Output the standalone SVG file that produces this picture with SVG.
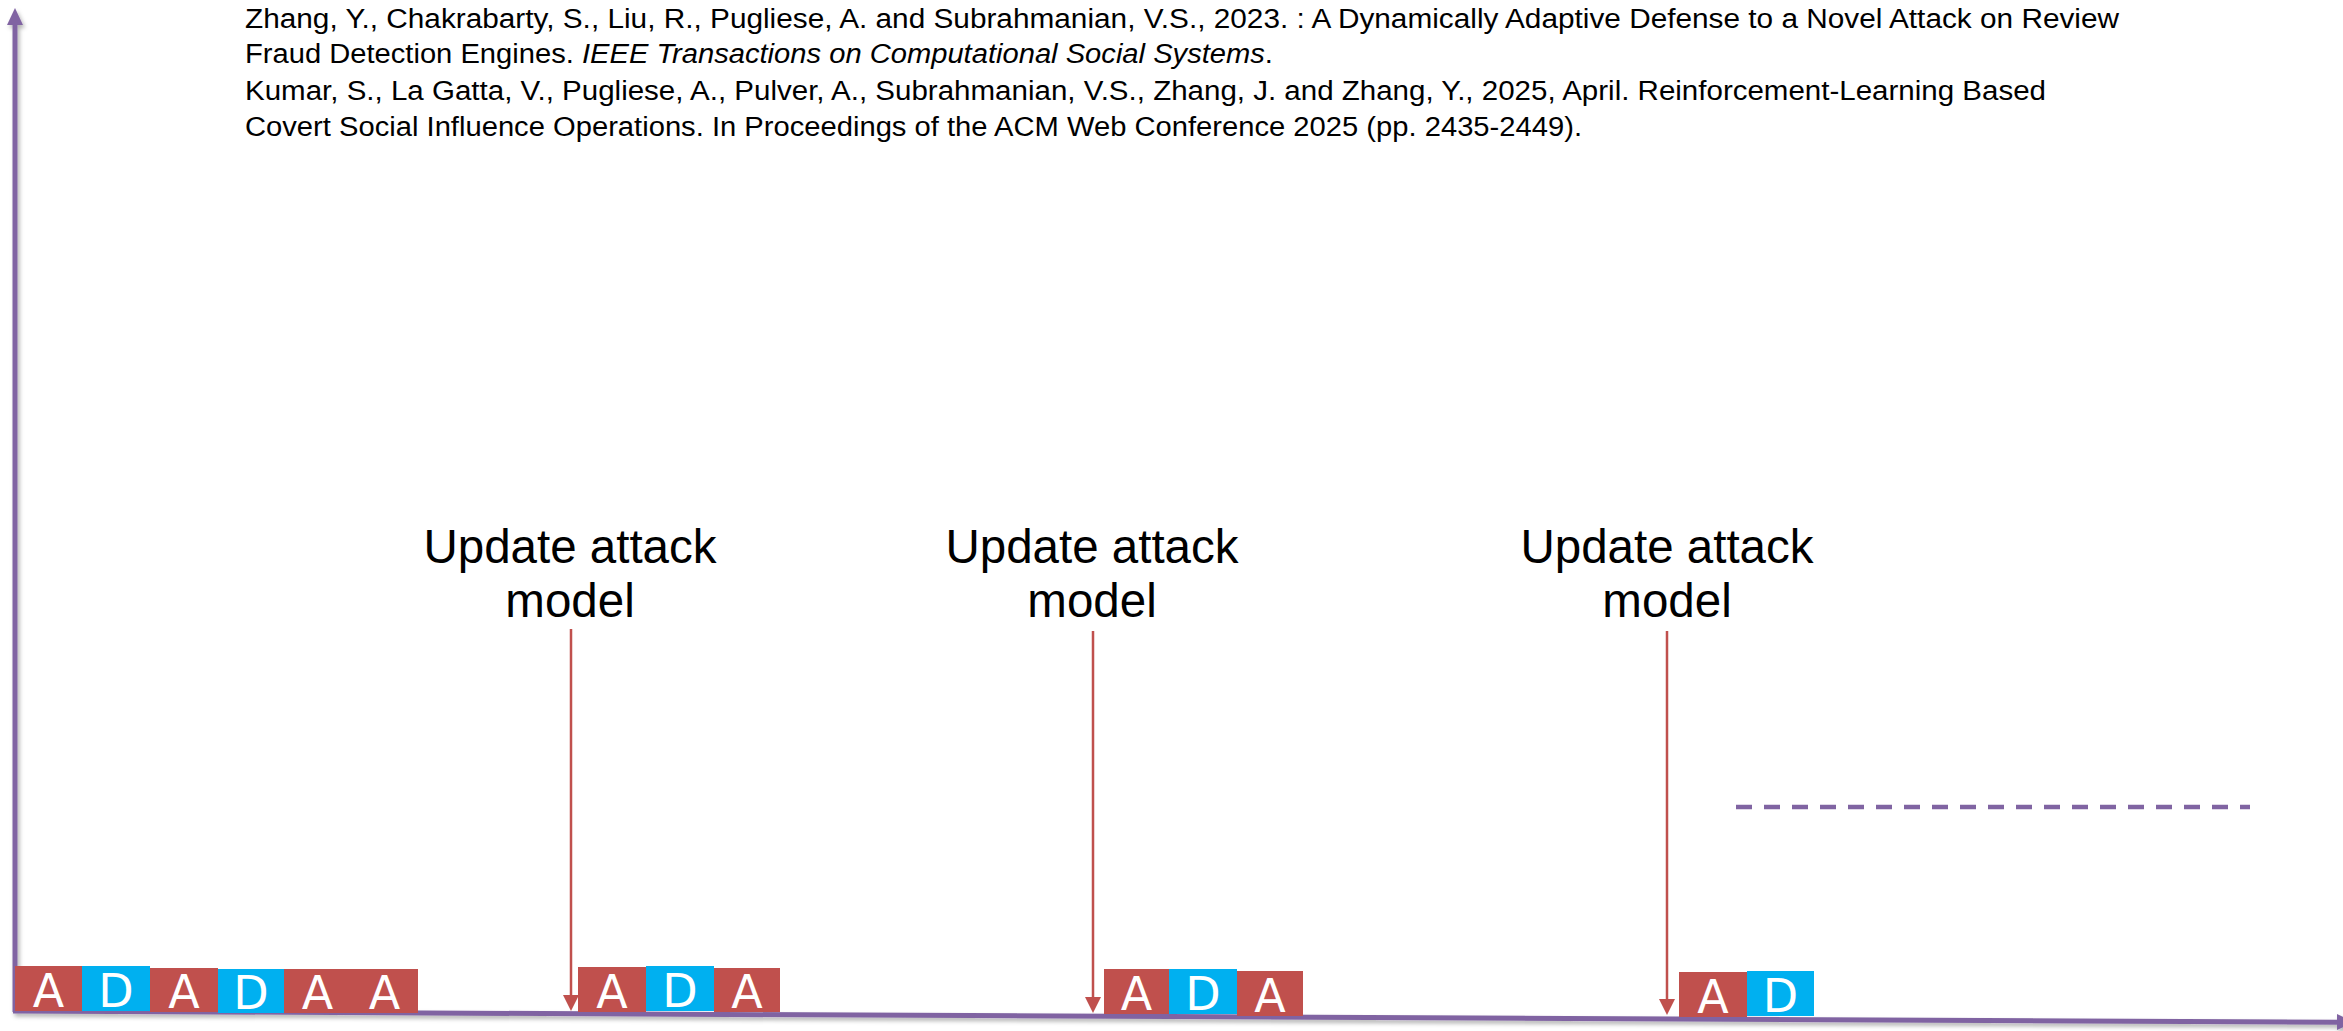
<svg xmlns="http://www.w3.org/2000/svg" width="2343" height="1031" viewBox="0 0 2343 1031">
<defs>
<filter id="sh" x="-5%" y="-5%" width="110%" height="110%">
<feDropShadow dx="2" dy="3" stdDeviation="2" flood-color="#000" flood-opacity="0.3"/>
</filter>
<style>
.cite{font-family:"Liberation Sans",Arial,sans-serif;font-size:27px;fill:#000}
.lbl{font-family:"Liberation Sans",Arial,sans-serif;font-size:47.5px;fill:#000;text-anchor:middle}
.a{fill:#C0504D}
.d{fill:#00B0F0}
.bt{font-family:"DejaVu Sans",Verdana,sans-serif;font-size:46px;fill:#fff;text-anchor:middle}
.ax{stroke:#8064A2;stroke-width:5;fill:none}
.axh{fill:#8064A2}
.ra{stroke:#C0504D;stroke-width:2.5;fill:none}
.rh{fill:#C0504D}
</style>
</defs>
<rect width="2343" height="1031" fill="#fff"/>
<g id="citations">
<text class="cite" x="245" y="28" textLength="1874" lengthAdjust="spacingAndGlyphs">Zhang, Y., Chakrabarty, S., Liu, R., Pugliese, A. and Subrahmanian, V.S., 2023. : A Dynamically Adaptive Defense to a Novel Attack on Review</text>
<text class="cite" x="245" y="63" textLength="1028" lengthAdjust="spacingAndGlyphs">Fraud Detection Engines. <tspan font-style="italic">IEEE Transactions on Computational Social Systems</tspan>.</text>
<text class="cite" x="245" y="100" textLength="1801" lengthAdjust="spacingAndGlyphs">Kumar, S., La Gatta, V., Pugliese, A., Pulver, A., Subrahmanian, V.S., Zhang, J. and Zhang, Y., 2025, April. Reinforcement-Learning Based</text>
<text class="cite" x="245" y="136" textLength="1337" lengthAdjust="spacingAndGlyphs">Covert Social Influence Operations. In Proceedings of the ACM Web Conference 2025 (pp. 2435-2449).</text>
</g>
<g id="axes" filter="url(#sh)">
<line class="ax" x1="15" y1="1012" x2="15" y2="22"/>
<polygon class="axh" points="7,25 23,25 15,8"/>
<line class="ax" x1="13" y1="1011" x2="2340" y2="1022.2"/>
<polygon class="axh" points="2337,1014 2337,1030 2354,1022.3"/>
</g>
<g id="dashed">
<line x1="1736" y1="807" x2="2250" y2="807" stroke="#8064A2" stroke-width="4.5" stroke-dasharray="16 12"/>
</g>
<g id="labels">
<g id="label1"><text class="lbl" x="570" y="563">Update attack</text><text class="lbl" x="570" y="617">model</text></g>
<g id="label2"><text class="lbl" x="1092" y="563">Update attack</text><text class="lbl" x="1092" y="617">model</text></g>
<g id="label3"><text class="lbl" x="1667" y="563">Update attack</text><text class="lbl" x="1667" y="617">model</text></g>
</g>
<g id="connectors">
<line class="ra" x1="571" y1="629" x2="571" y2="996"/>
<polygon class="rh" points="563,995 579,995 571,1011"/>
<line class="ra" x1="1093" y1="631" x2="1093" y2="998"/>
<polygon class="rh" points="1085,997 1101,997 1093,1013"/>
<line class="ra" x1="1667" y1="631" x2="1667" y2="1000"/>
<polygon class="rh" points="1659,999 1675,999 1667,1015"/>
</g>
<g id="group1">
<g id="b1"><rect class="a" x="15" y="966" width="67" height="45"/><text class="bt" x="48.5" y="1007">A</text></g>
<g id="b2"><rect class="d" x="82" y="966" width="68" height="45"/><text class="bt" x="116" y="1007">D</text></g>
<g id="b3"><rect class="a" x="150" y="968" width="68" height="44"/><text class="bt" x="184" y="1008">A</text></g>
<g id="b4"><rect class="d" x="218" y="969" width="66" height="44"/><text class="bt" x="251" y="1009">D</text></g>
<g id="b5"><rect class="a" x="284" y="969" width="67" height="44"/><text class="bt" x="317.5" y="1009">A</text></g>
<g id="b6"><rect class="a" x="351" y="969" width="67" height="44"/><text class="bt" x="384.5" y="1009">A</text></g>
</g>
<g id="group2">
<g id="b7"><rect class="a" x="578" y="967" width="68" height="45"/><text class="bt" x="612" y="1008">A</text></g>
<g id="b8"><rect class="d" x="646" y="966" width="68" height="45"/><text class="bt" x="680" y="1007">D</text></g>
<g id="b9"><rect class="a" x="714" y="968" width="66" height="44"/><text class="bt" x="747" y="1008">A</text></g>
</g>
<g id="group3">
<g id="b10"><rect class="a" x="1104" y="969" width="65" height="45"/><text class="bt" x="1136.5" y="1010">A</text></g>
<g id="b11"><rect class="d" x="1169" y="969" width="68" height="45"/><text class="bt" x="1203" y="1010">D</text></g>
<g id="b12"><rect class="a" x="1237" y="971" width="66" height="45"/><text class="bt" x="1270" y="1012">A</text></g>
</g>
<g id="group4">
<g id="b13"><rect class="a" x="1679" y="972" width="68" height="45"/><text class="bt" x="1713" y="1013">A</text></g>
<g id="b14"><rect class="d" x="1747" y="971" width="67" height="45"/><text class="bt" x="1780.5" y="1012">D</text></g>
</g>
</svg>
